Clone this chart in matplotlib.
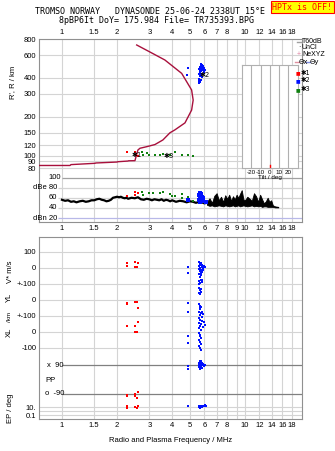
import numpy as np
import matplotlib
matplotlib.use("Agg")
import matplotlib.pyplot as plt

plt.rcParams['font.family'] = ['Liberation Sans', 'DejaVu Sans']

# ---- data ----
tick_freqs = [1, 1.5, 2, 3, 4, 5, 6, 7, 8, 9, 10, 12, 14, 16, 18]
top_labels = ['1', '1.5', '2', '3', '4', '5', '6', '7', '8', '', '10', '12', '14', '16', '18']
mid_labels = ['1', '1.5', '2', '3', '4', '5', '6', '7', '8', '9', '10', '12', '14', '16', '18']
height_ticks = [80, 90, 100, 120, 150, 200, 300, 400, 600, 800]

# true height profile
prof_f = [0.749, 1.106, 1.12, 1.515, 1.53, 2.00, 2.02, 2.295, 2.31, 2.505, 2.553, 2.60,
          2.667, 2.90, 3.22, 3.56, 3.89, 4.14, 4.70, 5.11, 5.21, 5.11, 4.51, 3.65, 3.02, 2.56]
prof_h = [83.7, 83.7, 85, 87, 87.5, 89, 89.5, 90.6, 91, 91.2, 100.9, 110.3,
          113.8, 117, 121.6, 132, 150, 158, 179, 225, 269, 322, 433, 550, 635, 719]

# echoes, virtual height
red_f = [2.26, 2.50, 2.55, 2.60]
red_h = [107, 107, 101, 99]
green_f = [2.73, 2.76, 2.90, 2.99, 3.22, 3.43, 3.58, 3.89, 4.14, 4.51, 4.90, 5.17]
green_h = [106.9, 101, 105, 100.5, 101, 101, 102.6, 100.5, 106.9, 101, 101, 99.8]
blue_f = [5.73, 5.82, 5.78, 5.91, 5.68, 5.82, 5.95, 5.61, 5.73, 5.88, 6.05, 5.65, 5.78, 5.95,
          5.70, 5.85, 5.62, 5.75, 5.66, 5.80, 5.62, 5.72, 5.64, 5.70, 5.62, 4.90, 4.84]
blue_h = [512, 505, 495, 490, 485, 480, 478, 470, 465, 462, 458, 452, 448, 445,
          438, 432, 425, 418, 410, 404, 395, 388, 378, 370, 363, 474, 420]

# amplitude / noise
trace_f = [1.00, 1.04, 1.08, 1.12, 1.16, 1.20, 1.25, 1.30, 1.35, 1.40, 1.45, 1.50, 1.55, 1.60,
           1.65, 1.70, 1.75, 1.80, 1.85, 1.90, 1.95, 2.00, 2.05, 2.10, 2.15, 2.20, 2.25, 2.30,
           2.40, 2.50, 2.60, 2.70, 2.80, 2.90, 3.00, 3.10, 3.20, 3.30, 3.40, 3.50, 3.60, 3.70,
           3.80, 3.90, 4.00, 4.20, 4.40, 4.60, 4.80, 5.00, 5.20, 5.40, 5.60, 5.80, 6.00, 6.20]
trace_db = [56, 54, 55, 52, 53, 51, 53, 54, 52, 53, 55, 55, 57, 58, 56, 55, 53, 54, 56, 60,
            61, 62, 61, 62, 60, 59, 60, 58, 60, 59, 61, 57, 56, 58, 57, 55, 57, 56, 55, 57,
            54, 56, 55, 53, 55, 52, 54, 53, 51, 53, 52, 50, 52, 51, 49, 50]
spike_f = [6.2, 6.4, 6.6, 6.8, 7.0, 7.2, 7.4, 7.6, 7.8, 8.0, 8.2, 8.4, 8.6, 8.8, 9.0, 9.2, 9.4,
           9.6, 9.8, 10.0, 10.3, 10.6, 10.9, 11.2, 11.5, 11.8, 12.1, 12.4, 12.7, 13.0, 13.3,
           13.6, 13.9, 14.2, 14.6, 15.2]
spike_hi = [52, 59, 50, 64, 69, 55, 62, 52, 65, 58, 66, 54, 63, 57, 66, 60, 68, 75, 57, 55, 62,
            58, 54, 69, 63, 52, 66, 57, 49, 53, 60, 52, 55, 45, 43, 42]
spike_lo = [46, 44, 45, 43, 44, 45, 44, 43, 45, 44, 43, 44, 45, 43, 44, 45, 43, 44, 45, 44, 43,
            44, 45, 43, 44, 43, 44, 42, 43, 43, 42, 42, 42, 42, 41, 41]
red_db_f = [2.26, 2.51, 2.51, 2.61]
red_db = [64, 72, 66, 69]
green_db_f = [2.73, 2.78, 2.99, 3.15, 3.43, 3.58, 3.89, 4.00, 4.14, 4.51, 4.55, 4.90, 5.17]
green_db = [72, 66, 69, 70, 70, 72, 67, 64, 63, 67, 60, 62, 54]
blue_db_f = [5.62, 5.70, 5.78, 5.85, 5.66, 5.74, 5.82, 5.90, 5.60, 5.70, 5.80, 5.68, 4.90, 6.10,
             5.75, 5.65, 5.85, 5.72]
blue_db = [66, 69, 64, 62, 60, 63, 58, 60, 55, 56, 54, 52, 55, 52, 67, 62, 57, 59]

# lower panel: V*, YL, XL, PP, EP
rv_f = [2.26, 2.26, 2.51, 2.51, 2.61, 2.56]
rv = [29, 12, 39, 8, 33, 8]
ryl_f = [2.26, 2.26, 2.51, 2.58, 2.61]
ryl = [-21, -27, -10, -14, -48]
rxl_f = [2.26, 2.51, 2.61, 2.51, 2.58]
rxl = [37, 37, 64, 2, -2]
rpp_f = [2.26, 2.26, 2.51, 2.61, 2.56, 2.51]
rpp = [-94, -100, -90, -76, -113, -104]
rep_f = [2.26, 2.51, 2.56, 2.61, 2.26]
rep = [14, 12, 5, 15, 6]

bv_f = [5.62, 5.70, 5.78, 5.66, 5.85, 5.74, 5.95, 5.62, 5.80, 6.05, 5.70, 5.88, 5.60, 5.76,
        5.92, 5.66, 5.82, 5.72, 5.60, 5.78, 5.68, 5.85, 5.74, 5.62, 5.80, 5.70, 5.64, 4.86, 4.90]
bv = [38, 33, 29, 24, 21, 18, 14, 10, 8, 5, 2, -2, -6, -10, -14, -18, -23, -30, -38, -46,
      -54, -72, -78, -82, -88, -94, -99, 8, -29]
byl_f = [5.62, 5.72, 5.66, 5.78, 5.60, 5.70, 5.62, 5.68, 5.74, 5.66, 5.70, 5.82, 5.64, 5.76,
         5.92, 5.68, 5.80, 5.62, 4.86, 4.86]
byl = [75, 68, 60, 52, 44, 36, -28, -35, -42, -50, -58, -72, -78, -84, -90, -96, -104, -112, -17, -73]
bxl_f = [5.68, 5.80, 5.95, 5.62, 5.74, 6.05, 5.70, 5.86, 5.64, 5.78, 5.62, 5.70, 5.66, 5.74,
         5.60, 5.68, 5.72, 5.64, 5.70, 5.76, 4.90, 4.90]
bxl = [76, 70, 64, 58, 52, 46, 38, 30, 22, 14, -8, -18, -28, -40, -52, -64, -76, -88, -100, -112, -25, -67]
bpp_f = [5.66, 5.72, 5.78, 5.62, 5.70, 5.80, 5.90, 6.05, 5.58, 5.66, 5.74, 5.84, 5.96, 5.62,
         5.72, 5.80, 5.68, 4.90, 4.86]
bpp = [118, 112, 115, 105, 100, 104, 96, 92, 90, 88, 86, 89, 84, 78, 72, 75, 64, 84, 65]
bep_f = [5.60, 5.66, 5.72, 5.78, 5.84, 5.90, 5.96, 6.05, 6.10, 5.64, 5.70, 5.76, 5.82, 5.68, 4.90]
bep = [20, 14, 24, 18, 12, 22, 16, 26, 20, 9, 8, 11, 10, 7, 24]

RED, GREEN, BLUE = '#ff0000', '#108010', '#0010ff'
PROF = '#a8103c'
GRID = '#d4d4d4'
FRAME = '#909090'
FMIN, FMAX = 0.749, 20.49


def px_x(x):
    return x / 335.0


def px_y(y):
    return 1 - y / 451.0


def setup_freq(ax, labels, pos):
    ax.set_xscale('log')
    ax.set_xlim(FMIN, FMAX)
    ax.set_xticks(tick_freqs)
    ax.set_xticks([], minor=True)
    ax.set_xticklabels(labels, fontsize=5.5)
    for f in tick_freqs:
        ax.axvline(f, color=GRID, lw=0.8, zorder=0)
    for s in ax.spines.values():
        s.set_color(FRAME)
    ax.tick_params(axis='both', length=0, pad=2)
    if pos == 'top':
        ax.xaxis.tick_top()


fig = plt.figure(figsize=(3.35, 4.51), dpi=100)

# ---- virtual/true height panel ----
ax1 = fig.add_axes([px_x(39), px_y(172), 263 / 335, 133 / 451])
setup_freq(ax1, top_labels, 'top')
ax1.set_yscale('log')
ax1.set_ylim(74.5, 800)
ax1.set_yticks(height_ticks)
ax1.set_yticks([], minor=True)
ax1.set_yticklabels([str(h) for h in height_ticks], fontsize=5.5)
for h in height_ticks:
    ax1.axhline(h, color=GRID, lw=0.8, zorder=0)
ax1.spines['bottom'].set_visible(False)
ax1.plot(prof_f, prof_h, color=PROF, lw=1.0, zorder=3)
ax1.plot(red_f, red_h, 's', color=RED, ms=1.8, mew=0, zorder=4)
ax1.plot(green_f, green_h, 's', color=GREEN, ms=1.8, mew=0, zorder=4)
ax1.plot(blue_f, blue_h, 's', color=BLUE, ms=1.8, mew=0, zorder=4)
ax1.text(2.56, 101, '\u27311', fontsize=5, ha='center', va='center', family='DejaVu Sans', zorder=5)
ax1.text(6.0, 424, '\u27312', fontsize=5, ha='center', va='center', family='DejaVu Sans', zorder=5)
ax1.text(3.85, 99, '\u27313', fontsize=5, ha='center', va='center', family='DejaVu Sans', zorder=5)

# ---- amplitude panel ----
ax2 = fig.add_axes([px_x(39), px_y(222), 263 / 335, 50 / 451])
setup_freq(ax2, mid_labels, 'bottom')
ax2.set_ylim(12.1, 110.9)
ax2.set_yticks([])
ax2.spines['top'].set_visible(False)
for v, lab, c, x0 in [(100, '100', '#a0a0a0', 1.0), (80, 'dBe 80', GRID, 0.95),
                      (60, '60', GRID, 0.95), (40, '40', GRID, 0.95), (20, 'dBn 20', '#b8b8e8', 0.95)]:
    ax2.hlines(v, x0, FMAX, color=c, lw=0.9, zorder=0)
    ax2.text(x0 * 0.99, v, lab, fontsize=5.5, ha='right', va='center')
ax2.plot(trace_f, trace_db, color='black', lw=1.6, zorder=3)
ax2.fill_between(spike_f, spike_lo, spike_hi, color='black', lw=0.6, zorder=3)
ax2.plot(red_db_f, red_db, 's', color=RED, ms=1.8, mew=0, zorder=4)
ax2.plot(green_db_f, green_db, 's', color=GREEN, ms=1.8, mew=0, zorder=4)
ax2.plot(blue_db_f, blue_db, 's', color=BLUE, ms=2.2, mew=0, zorder=4)

# ---- tilt inset ----
ax_t = fig.add_axes([px_x(241.7), px_y(168.3), 56 / 335, 103.3 / 451])
ax_t.set_xlim(-30.5, 30.5)
ax_t.set_ylim(0, 1)
ax_t.set_facecolor('white')
ax_t.set_yticks([])
ax_t.set_xticks([-20, -10, 0, 10, 20])
ax_t.set_xticklabels(['-20', '-10', '0', '10', '20'], fontsize=4.5)
ax_t.tick_params(length=0, pad=1)
for t in [-20, -10, 0, 10, 20]:
    ax_t.axvline(t, color='#b0b0b0', lw=0.8)
for s in ax_t.spines.values():
    s.set_color('#b0b0b0')
ax_t.plot([0, 0], [0.0, 0.03], color=RED, lw=1.0, clip_on=False)
ax_t.set_xlabel('Tilt / deg', fontsize=4.5, labelpad=0)

# ---- V*, YL, XL, PP, EP panel ----
ax3 = fig.add_axes([px_x(39), px_y(419), 263 / 335, 182 / 451])
setup_freq(ax3, top_labels, 'bottom')
ax3.set_ylim(-943.75, 193.75)


def ep_y(v):
    return -894 + 25 * np.log10(v)


grid_u = [100, 0, -100, -200, -300, -400, -500]
ep_lines = [10, 1, 0.1]
for u in grid_u:
    ax3.axhline(u, color=GRID, lw=0.8, zorder=0)
for e in ep_lines:
    ax3.axhline(ep_y(e), color=GRID, lw=0.8, zorder=0)
ax3.hlines([-607, -787], 1.0, FMAX, color='#808080', lw=0.9, zorder=1)
ax3.set_yticks(grid_u + [ep_y(10), ep_y(0.1)])
ax3.set_yticklabels(['100', '0', '+-100', '0', '+-100', '0', '-100', '10.', '0.1'], fontsize=5.5)
ax3.text(0.83, -607, 'x  90', fontsize=5.5, ha='left', va='center')
ax3.text(0.81, -787, 'o  -90', fontsize=5.5, ha='left', va='center')
ax3.text(0.81, -700, 'PP', fontsize=5.5, ha='left', va='center')
ax3.set_xlabel('Radio and Plasma Frequency / MHz', fontsize=5.5, labelpad=6)

ax3.plot(rv_f, rv, 's', color=RED, ms=1.8, mew=0)
ax3.plot(ryl_f, np.array(ryl) - 200, 's', color=RED, ms=1.8, mew=0)
ax3.plot(rxl_f, np.array(rxl) - 400, 's', color=RED, ms=1.8, mew=0)
ax3.plot(rpp_f, np.array(rpp) - 697, 's', color=RED, ms=1.8, mew=0)
ax3.plot(rep_f, ep_y(np.array(rep)), 's', color=RED, ms=1.8, mew=0)
ax3.plot(bv_f, bv, 's', color=BLUE, ms=1.8, mew=0)
ax3.plot(byl_f, np.array(byl) - 200, 's', color=BLUE, ms=1.8, mew=0)
ax3.plot(bxl_f, np.array(bxl) - 400, 's', color=BLUE, ms=1.8, mew=0)
ax3.plot(bpp_f, np.array(bpp) - 697, 's', color=BLUE, ms=1.8, mew=0)
ax3.plot(bep_f, ep_y(np.array(bep)), 's', color=BLUE, ms=1.8, mew=0)

# side labels
fig.text(px_x(13), px_y(82), "R', R / km", rotation=90, fontsize=5.5, ha='center', va='center')
fig.text(px_x(10), px_y(272), 'V* m/s', rotation=90, fontsize=5.5, ha='center', va='center')
fig.text(px_x(9.5), px_y(297), 'YL', rotation=90, fontsize=5.5, ha='center', va='center')
fig.text(px_x(9.5), px_y(317), '/km', rotation=90, fontsize=4.5, ha='center', va='center')
fig.text(px_x(9.5), px_y(332), 'XL', rotation=90, fontsize=5.5, ha='center', va='center')
fig.text(px_x(10), px_y(408), 'EP / deg', rotation=90, fontsize=5.5, ha='center', va='center')

# legend
fig.lines.append(plt.Line2D([px_x(297), px_x(301)], [px_y(41.7)] * 2, color='#a0a0a0', lw=1,
                            transform=fig.transFigure))
fig.text(px_x(302), px_y(41.7), 'T60dB', fontsize=5, va='center')
fig.text(px_x(299), px_y(47.7), '\u00b7', fontsize=5, va='center', ha='center')
fig.text(px_x(302), px_y(47.7), 'UnCl', fontsize=5, va='center')
fig.text(px_x(299), px_y(54.3), '+', fontsize=5, va='center', ha='center', color='#e080a0')
fig.text(px_x(302), px_y(54.3), 'NeXYZ', fontsize=5, va='center')
fig.lines.append(plt.Line2D([px_x(295), px_x(299)], [px_y(62)] * 2, color='#e090a0', lw=1,
                            transform=fig.transFigure))
fig.text(px_x(299), px_y(62), '\u0398x', fontsize=5, va='center', family='DejaVu Sans')
fig.lines.append(plt.Line2D([px_x(306), px_x(310)], [px_y(62)] * 2, color='#8090e0', lw=1,
                            transform=fig.transFigure))
fig.text(px_x(310), px_y(62), '\u0398y', fontsize=5, va='center', family='DejaVu Sans')
for yy, c, lab in [(72.7, RED, '\u27311'), (80.5, BLUE, '\u27312'), (89.3, GREEN, '\u27313')]:
    fig.text(px_x(297.7), px_y(yy), '\u25a0', color=c, fontsize=3.5, ha='center', va='center',
             family='DejaVu Sans')
    fig.text(px_x(301), px_y(yy), lab, fontsize=4.8, va='center', family='DejaVu Sans')

# title
fig.text(px_x(150), px_y(12), 'TROMSO NORWAY   DYNASONDE 25-06-24 2338UT 15\u00b0E',
         family='DejaVu Sans Mono', fontsize=6, ha='center', va='center')
fig.text(px_x(156.5), px_y(20.5), '8pBP6It DoY= 175.984 File= TR735393.BPG',
         family='DejaVu Sans Mono', fontsize=6, ha='center', va='center')
fig.text(px_x(302.5), px_y(7), 'HPTx is OFF!', family='DejaVu Sans Mono', fontsize=6,
         color='red', ha='center', va='center',
         bbox=dict(facecolor='yellow', edgecolor='red', pad=1.2, lw=0.8))

fig.savefig('out.png', dpi=100)
